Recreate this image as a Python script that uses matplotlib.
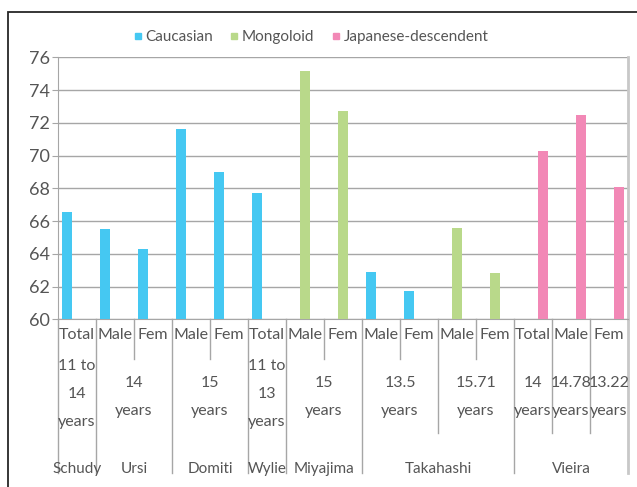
import numpy as np
import matplotlib.pyplot as plt
from matplotlib.patches import Rectangle
from matplotlib.lines import Line2D

plt.rcParams['font.family'] = ['Lato', 'DejaVu Sans']

nan = np.nan

# categories (three-level axis)
sex = ['Total', 'Male', 'Fem', 'Male', 'Fem', 'Total', 'Male', 'Fem',
       'Male', 'Fem', 'Male', 'Fem', 'Total', 'Male', 'Fem']
age_labels = ['11 to\n14\nyears', '14\nyears', '15\nyears', '11 to\n13\nyears',
              '15\nyears', '13.5\nyears', '15.71\nyears', '14\nyears',
              '14.78\nyears', '13.22\nyears']
age_spans = [(0, 0), (1, 2), (3, 4), (5, 5), (6, 7), (8, 9), (10, 11),
             (12, 12), (13, 13), (14, 14)]
authors = ['Schudy', 'Ursi', 'Domiti', 'Wylie', 'Miyajima', 'Takahashi', 'Vieira']
author_spans = [(0, 0), (1, 2), (3, 4), (5, 5), (6, 7), (8, 11), (12, 14)]

# series values
caucasian = [66.55, 65.5, 64.3, 71.6, 69.0, 67.7, nan, nan,
             62.9, 61.7, nan, nan, nan, nan, nan]
mongoloid = [nan, nan, nan, nan, nan, nan, 75.15, 72.7,
             nan, nan, 65.6, 62.8, nan, nan, nan]
japanese = [nan, nan, nan, nan, nan, nan, nan, nan,
            nan, nan, nan, nan, 70.3, 72.5, 68.1]

series = [('Caucasian', caucasian, '#45C8F2'),
          ('Mongoloid', mongoloid, '#B9D98A'),
          ('Japanese-descendent', japanese, '#F288B6')]

W, H = 637, 487
AX_L, AX_R, AX_T, AX_B = 58, 628, 57.3, 319.3
TXT = '#555555'
GRID = '#A6A6A6'

fig = plt.figure(figsize=(W / 100, H / 100), dpi=100)
ax = fig.add_axes([AX_L / W, 1 - AX_B / H, (AX_R - AX_L) / W, (AX_B - AX_T) / H])


def ay(px):
    return (AX_B - px) / (AX_B - AX_T)


x = np.arange(len(sex))
bw = 0.265
for i, (name, vals, col) in enumerate(series):
    ax.bar(x + (i - 1) * bw, vals, width=bw, color=col, label=name, zorder=3)

ax.set_xlim(-0.5, len(sex) - 0.5)
ax.set_ylim(60, 76)
ax.set_yticks(np.arange(60, 77, 2))
ax.tick_params(axis='y', length=4, color=GRID, labelsize=13, labelcolor=TXT, pad=2)
ax.set_xticks([])
ax.grid(axis='y', color=GRID, linewidth=1, zorder=0)
ax.spines['top'].set_visible(False)
ax.spines['left'].set_color(GRID)
ax.spines['bottom'].set_color(GRID)
ax.spines['right'].set_color('#C8C8C8')
ax.spines['right'].set_linewidth(2)

tr = ax.get_xaxis_transform()

# separator lines of the category axis
lvl3 = [-0.5] + [e + 0.5 for s, e in author_spans]
lvl2 = [e + 0.5 for s, e in age_spans if e + 0.5 not in lvl3]
lvl1 = [i + 0.5 for i in range(len(sex) - 1) if i + 0.5 not in lvl3 + lvl2]
for xs, ybot in [(lvl3, 473), (lvl2, 433), (lvl1, 359)]:
    for xv in xs:
        col = '#C8C8C8' if xv == len(sex) - 0.5 else GRID
        lw = 2 if xv == len(sex) - 0.5 else 1
        ax.plot([xv, xv], [0, ay(ybot)], transform=tr, color=col, lw=lw,
                clip_on=False, zorder=1)

for i, lab in enumerate(sex):
    ax.text(i, ay(335), lab, transform=tr, ha='center', va='center',
            fontsize=11.5, color=TXT)
for (s, e), lab in zip(age_spans, age_labels):
    yc = 394 if lab.count('\n') == 2 else 397
    ax.text((s + e) / 2, ay(yc), lab, transform=tr, ha='center', va='center',
            fontsize=11.5, color=TXT, linespacing=2.25)
for (s, e), lab in zip(author_spans, authors):
    ax.text((s + e) / 2, ay(469), lab, transform=tr, ha='center', va='center',
            fontsize=11, color=TXT)

handles = [Line2D([], [], marker='s', linestyle='none', markersize=5,
                  color=c, label=n) for n, v, c in series]
fig.legend(handles=handles, loc='center', bbox_to_anchor=(310 / W, 1 - 37 / H),
           ncol=3, frameon=False, fontsize=11, labelcolor=TXT,
           handletextpad=0.1, columnspacing=1.0, handlelength=0.8)

# chart border
fig.patches.append(Rectangle((8 / W, -0.1), 1.2, 1 - 12 / H + 0.1,
                             transform=fig.transFigure, fill=False,
                             edgecolor='#262626', linewidth=1.3))

fig.savefig('out.png', dpi=100)
